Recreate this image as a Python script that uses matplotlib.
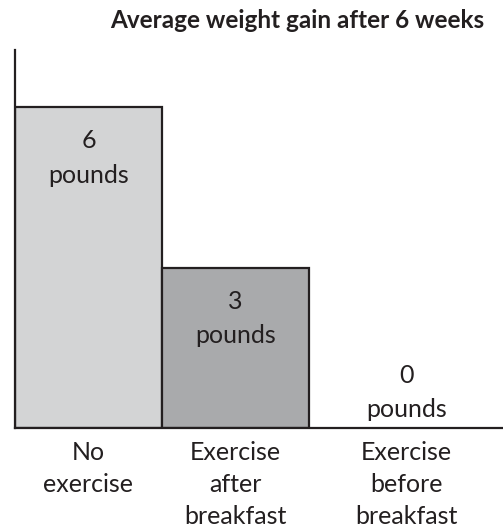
import matplotlib
matplotlib.use("Agg")
import matplotlib.pyplot as plt

categories = ["No\nexercise", "Exercise\nafter\nbreakfast", "Exercise\nbefore\nbreakfast"]
values = [6, 3, 0]
value_labels = ["6\npounds", "3\npounds", "0\npounds"]
bar_colors = ["#d3d4d5", "#a9aaac", "#ffffff"]
title = "Average weight gain after 6 weeks"

plt.rcParams['font.family'] = ['Lato', 'DejaVu Sans']
text_color = "#231f20"

fig = plt.figure(figsize=(5.03, 5.29), dpi=100)
ax = fig.add_axes([15/503, 101/529, 488/503, 378/529])

positions = [0, 1, 2.163]
for i, (p, v) in enumerate(zip(positions, values)):
    if v > 0:
        ax.bar(p, v, width=1.0, color=bar_colors[i], edgecolor=text_color, linewidth=1.6, zorder=2)

ax.set_xlim(-0.5, 2.82)
ax.set_ylim(0, 7.07)

for p, v, lab in zip(positions, values, value_labels):
    if v > 0:
        ax.annotate(lab, xy=(p, v), xytext=(0, -16), textcoords='offset points',
                    ha='center', va='top', fontsize=18, color=text_color, linespacing=1.6)
    else:
        ax.annotate(lab, xy=(p, v), xytext=(0, 5), textcoords='offset points',
                    ha='center', va='bottom', fontsize=18, color=text_color, linespacing=1.6)

for p, c in zip(positions, categories):
    ax.annotate(c, xy=(p, 0), xytext=(0, -9), textcoords='offset points',
                ha='center', va='top', fontsize=18, color=text_color, linespacing=1.5)

for s in ['top', 'right']:
    ax.spines[s].set_visible(False)
for s in ['left', 'bottom']:
    ax.spines[s].set_linewidth(1.6)
    ax.spines[s].set_color(text_color)
ax.set_xticks([])
ax.set_yticks([])

fig.text(297/503, 1 - 20/529, title, ha='center', va='center', fontsize=17.5,
         fontweight='bold', color=text_color)

fig.savefig("out.png", dpi=100)
